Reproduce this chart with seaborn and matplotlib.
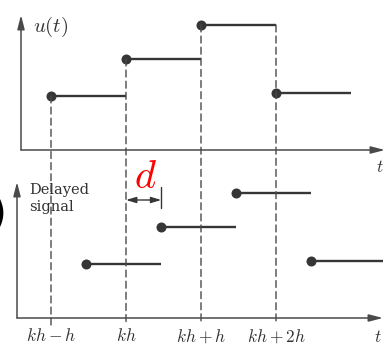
import matplotlib
matplotlib.use("Agg")
import matplotlib.pyplot as plt
from matplotlib.patches import ConnectionPatch
import seaborn as sns
import pandas as pd

sns.set_theme(style="white")
plt.rcParams['mathtext.fontset'] = 'cm'
plt.rcParams['font.family'] = ['DejaVu Serif']

# ---- data (time in units of h, kh = 0) ----
sample_times = [-1, 0, 1, 2]
tick_labels = [r'$kh-h$', r'$kh$', r'$kh+h$', r'$kh+2h$']
levels = [54, 91, 125, 57]        # held signal value on each interval
hold = 1.0                         # interval length h
delay = 0.47                       # d, as a fraction of h

LINE = '#363636'
AXC = '#4a4a4a'

fig = plt.figure(figsize=(3.87, 3.45), dpi=100)
ax1 = fig.add_axes([21/387, 1-150/345, 364/387, 135/345])
ax2 = fig.add_axes([17/387, 1-318/345, 366/387, 136/345])
ax1.set_xlim((21-126)/75, (385-126)/75)
ax2.set_xlim((17-126)/75, (383-126)/75)
ax1.set_ylim(0, 135)
ax2.set_ylim(0, 136)

for ax in (ax1, ax2):
    for s in ax.spines.values():
        s.set_visible(False)
    ax.set_facecolor('none')
    ax.set_yticks([])
    ax.annotate('', xy=(1, 0), xytext=(0, 0), xycoords='axes fraction',
                arrowprops=dict(arrowstyle='-|>,head_length=0.7,head_width=0.18',
                                color=AXC, lw=1.1, shrinkA=0, shrinkB=0))
    ax.annotate('', xy=(0, 1), xytext=(0, 0), xycoords='axes fraction',
                arrowprops=dict(arrowstyle='-|>,head_length=0.7,head_width=0.18',
                                color=AXC, lw=1.1, shrinkA=0, shrinkB=0))
ax1.set_xticks([])
ax2.set_xticks(sample_times, tick_labels)
ax2.tick_params(axis='x', length=0, pad=7, labelsize=12.5, labelcolor='#333333')

top = pd.DataFrame({'start': sample_times, 'level': levels})
top['end'] = top['start'] + hold
bot = top.copy()
bot['start'] = bot['start'] + delay
bot['end'] = bot['end'] + delay

# dashed vertical guides through both panels
for i, t in enumerate(sample_times):
    y0 = levels[i] if i == 0 else max(levels[i-1], levels[i])
    con = ConnectionPatch(xyA=(t, y0), coordsA=ax1.transData,
                          xyB=(t, -7), coordsB=ax2.transData,
                          color=AXC, lw=1.0, linestyle=(0, (5, 3)), zorder=1)
    fig.add_artist(con)

for ax, df in ((ax1, top), (ax2, bot)):
    ax.hlines(df['level'], df['start'], df['end'], color=LINE, lw=1.7, zorder=3)
    sns.scatterplot(data=df, x='start', y='level', ax=ax, color=LINE, s=52,
                    edgecolor=LINE, linewidth=0, zorder=4, legend=False, clip_on=False)
    ax.set_xlabel('')
    ax.set_ylabel('')

# labels
ax1.text((33-126)/75, 123, r'$u(t)$', fontsize=15, color='#333333', va='center')
ax1.text((380-126)/75, -18, r'$t$', fontsize=12.5, color='#333333', va='center',
         ha='center', clip_on=False)
ax2.text((378-126)/75, -20, r'$t$', fontsize=12.5, color='#333333', va='center',
         ha='center', clip_on=False)
ax2.text((29-126)/75, 135, 'Delayed\nsignal', fontsize=10.5, color='#333333',
         va='top', ha='left', linespacing=1.25)

# delay marker d
ax2.annotate('', xy=(0, 118), xytext=(delay, 118), xycoords='data',
             arrowprops=dict(arrowstyle='<|-|>,head_length=0.5,head_width=0.15',
                             color=LINE, lw=1.0, shrinkA=0, shrinkB=0),
             annotation_clip=False)
ax2.plot([delay, delay], [110, 131], color=LINE, lw=1.0, clip_on=False)
ax2.text(delay/2 + 0.02, 141, r'$d$', color='red', fontsize=29,
         ha='center', va='center', clip_on=False)

fig.text(7/387, 1-215/345, ')', fontsize=30, fontweight='bold', color='black',
         ha='right', va='center', family='DejaVu Sans')

fig.savefig('out.png', dpi=100)
